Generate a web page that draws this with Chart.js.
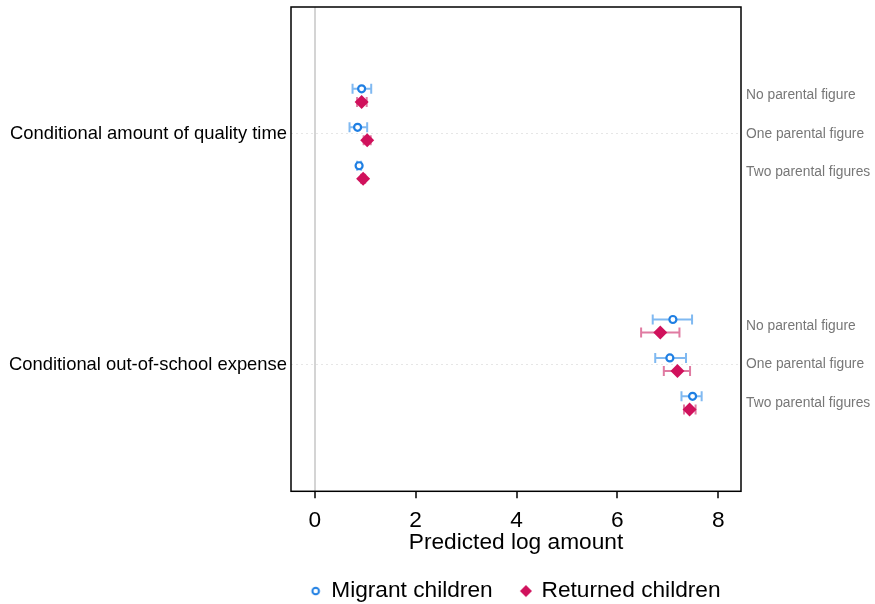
<!DOCTYPE html>
<html>
<head>
<meta charset="utf-8">
<script src="https://cdn.jsdelivr.net/npm/chart.js@4"></script>
<style>
  html, body { margin: 0; padding: 0; background: #fff; }
  #wrap { width: 875px; height: 604px; }
</style>
</head>
<body>
<div id="wrap"><canvas id="plot"></canvas></div>
<script>
// outcomes (left labels) and parental situations (right labels)
const categories = ['Conditional amount of quality time', 'Conditional out-of-school expense'];
const groups = ['No parental figure', 'One parental figure', 'Two parental figures'];
const seriesNames = ['Migrant children', 'Returned children'];

// estimates and 95% CI, order: quality time (no, one, two), expense (no, one, two)
const migrantEst = [0.93, 0.85, 0.88, 7.10, 7.04, 7.49];
const migrantLo  = [0.75, 0.69, 0.84, 6.70, 6.75, 7.27];
const migrantHi  = [1.12, 1.04, 0.92, 7.48, 7.36, 7.67];
const returnedEst = [0.93, 1.04, 0.96, 6.85, 7.19, 7.43];
const returnedLo  = [0.84, 0.97, 0.92, 6.47, 6.92, 7.32];
const returnedHi  = [1.03, 1.11, 1.00, 7.23, 7.44, 7.55];

const xTicks = [0, 2, 4, 6, 8];

// row position on the y scale for each category / group
function rowPos(i) {
  const c = Math.floor(i / groups.length), g = i % groups.length;
  return 1 + c * 6 + g;
}
const OFF = 0.17;

function points(est, lo, hi, shift) {
  return est.map((v, i) => ({ x: v, y: rowPos(i) + shift, lo: lo[i], hi: hi[i] }));
}

const blue = '#1f7fe3', blueBar = '#80b9f1';
const red = '#d0115c', redBar = '#e07ba2';
const legendGap = 29;

// small legend symbols (circle is smaller than the diamond in the original)
function legendIcon(kind) {
  const c = document.createElement('canvas');
  c.width = 14; c.height = 14;
  const g = c.getContext('2d');
  if (kind === 'circle') {
    g.strokeStyle = blue; g.lineWidth = 2;
    g.beginPath(); g.arc(7, 7, 3.3, 0, Math.PI * 2); g.stroke();
  } else {
    g.fillStyle = red;
    g.beginPath(); g.moveTo(7, 1); g.lineTo(13, 7); g.lineTo(7, 13); g.lineTo(1, 7); g.closePath(); g.fill();
  }
  return c;
}
const legendIcons = [legendIcon('circle'), legendIcon('diamond')];

const errorBars = {
  id: 'errorBars',
  beforeDraw(chart) {
    // centre the legend under the plot box, not the whole canvas
    const lg = chart.legend, a = chart.chartArea;
    if (lg && lg.lineWidths) {
      const w = lg.lineWidths[0] - legendGap;
      lg.left = (a.left + a.right) / 2 - w / 2 - legendGap;
    }
  },
  beforeDatasetsDraw(chart) {
    const ctx = chart.ctx, xs = chart.scales.x, ys = chart.scales.y;
    chart.data.datasets.forEach(ds => {
      ctx.save();
      ctx.strokeStyle = ds.barColor;
      ctx.lineWidth = 2;
      ds.data.forEach(p => {
        const y = ys.getPixelForValue(p.y);
        const x1 = xs.getPixelForValue(p.lo), x2 = xs.getPixelForValue(p.hi);
        ctx.beginPath();
        ctx.moveTo(x1, y); ctx.lineTo(x2, y);
        ctx.moveTo(x1, y - 5); ctx.lineTo(x1, y + 5);
        ctx.moveTo(x2, y - 5); ctx.lineTo(x2, y + 5);
        ctx.stroke();
      });
      ctx.restore();
    });
  },
  afterDraw(chart) {
    const a = chart.chartArea, ctx = chart.ctx;
    ctx.save();
    ctx.strokeStyle = '#000';
    ctx.lineWidth = 1.5;
    ctx.strokeRect(a.left, a.top, a.right - a.left, a.bottom - a.top);
    ctx.restore();
  }
};

const font = "'Liberation Sans', Arial, Helvetica, sans-serif";

new Chart(document.getElementById('plot'), {
  type: 'scatter',
  data: {
    datasets: [
      {
        label: seriesNames[0],
        data: points(migrantEst, migrantLo, migrantHi, -OFF),
        pointStyle: 'circle',
        pointRadius: 3.5,
        pointBorderWidth: 2.2,
        borderColor: blue,
        backgroundColor: '#fff',
        barColor: blueBar
      },
      {
        label: seriesNames[1],
        data: points(returnedEst, returnedLo, returnedHi, OFF),
        pointStyle: 'rectRot',
        pointRadius: 7,
        pointBorderWidth: 0,
        borderColor: red,
        backgroundColor: red,
        barColor: redBar
      }
    ]
  },
  options: {
    responsive: true,
    maintainAspectRatio: false,
    animation: false,
    layout: { padding: { top: 1.5, right: 0, left: 0, bottom: -8.4 } },
    plugins: {
      tooltip: { enabled: false },
      legend: {
        position: 'bottom',
        align: 'start',
        labels: {
          usePointStyle: true,
          boxHeight: 6,
          pointStyleWidth: 8.5,
          padding: legendGap,
          color: '#000',
          font: { family: font, size: 22.7, lineHeight: 1 },
          generateLabels: chart => {
            const items = Chart.defaults.plugins.legend.labels.generateLabels(chart);
            items.forEach((it, i) => { it.pointStyle = legendIcons[i]; });
            return items;
          }
        }
      }
    },
    scales: {
      x: {
        type: 'linear',
        min: -0.47,
        max: 8.45,
        afterBuildTicks: s => { s.ticks = xTicks.map(v => ({ value: v })); },
        afterFit: s => { s.height = 59.4; },
        grid: {
          color: c => (c.tick && c.tick.value === 0 ? '#d4d4d4' : 'rgba(0,0,0,0)'),
          lineWidth: 2,
          tickColor: '#000',
          tickLength: 7,
          tickWidth: 1.5
        },
        border: { display: false },
        ticks: { color: '#000', font: { family: font, size: 22.7, lineHeight: 1 }, padding: 11 },
        title: {
          display: true,
          text: 'Predicted log amount',
          color: '#000',
          font: { family: font, size: 22.7, lineHeight: 0.7 },
          padding: { top: 0, bottom: 0 }
        }
      },
      y: {
        type: 'linear',
        position: 'left',
        reverse: true,
        min: -1.3,
        max: 11.3,
        afterBuildTicks: s => { s.ticks = [rowPos(1), rowPos(4)].map(v => ({ value: v })); },
        afterFit: s => { s.width = 291; s.paddingTop = 0; s.paddingBottom = 0; },
        grid: { color: '#e6e6e6', lineWidth: 1, drawTicks: false },
        border: { display: false, dash: [2, 3] },
        ticks: {
          color: '#000',
          padding: 4,
          font: { family: font, size: 18.4 },
          callback: v => categories[v === rowPos(1) ? 0 : 1]
        }
      },
      y2: {
        type: 'linear',
        position: 'right',
        reverse: true,
        min: -1.3,
        max: 11.3,
        afterBuildTicks: s => { s.ticks = [0, 1, 2, 3, 4, 5].map(i => ({ value: rowPos(i) })); },
        afterFit: s => { s.width = 134; s.paddingTop = 0; s.paddingBottom = 0; },
        grid: { display: false, drawTicks: false },
        border: { display: false },
        ticks: {
          color: '#777',
          padding: 5,
          font: { family: font, size: 13.8 },
          callback: v => groups[(v - 1) % 6]
        }
      }
    }
  },
  plugins: [errorBars]
});
</script>
</body>
</html>
